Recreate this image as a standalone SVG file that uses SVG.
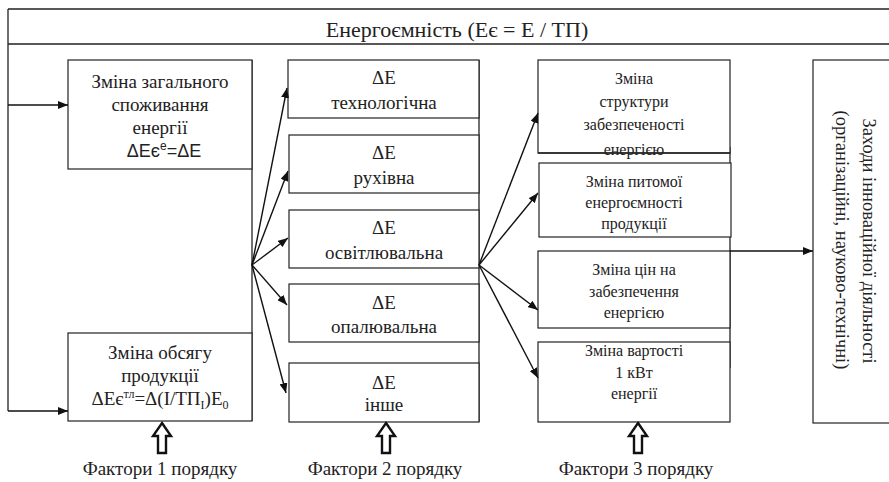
<svg xmlns="http://www.w3.org/2000/svg" width="889" height="482" viewBox="0 0 889 482">
<style>
.b{fill:#fff;stroke:#222;stroke-width:1.2}
.l{fill:none;stroke:#222;stroke-width:1.3}
.c{stroke:#111;stroke-width:1.4;fill:none}
.t{font-family:"Liberation Serif","Times New Roman",serif;font-size:19px;fill:#222;text-anchor:middle}
.s{font-size:16px}
.f{font-family:"Liberation Sans",Arial,sans-serif;font-size:18px;fill:#222;text-anchor:middle}
.h{fill:#fff;stroke:#111;stroke-width:2.4}
</style>
<defs>
<marker id="a" viewBox="0 0 10 8" refX="10" refY="4" markerWidth="10" markerHeight="8" markerUnits="userSpaceOnUse" orient="auto">
<path d="M0,0L10,4L0,8Z" fill="#111"/>
</marker>
</defs>
<rect width="889" height="482" fill="#fff"/>
<g id="header">
<path class="l" d="M8,9H895M8,44H895M8,9V411"/>
<text class="t" x="457" y="37" style="font-size:22px">Енергоємність (Еє = Е / ТП)</text>
</g>
<g id="col1">
<path class="l" d="M252,60V421"/>
<g id="n-total">
<rect class="b" x="68" y="60" width="184" height="109"/>
<text class="t" x="160" y="88">Зміна загального</text>
<text class="t" x="160" y="111">споживання</text>
<text class="t" x="160" y="134">енергії</text>
<text class="f" x="164" y="157">ΔEє<tspan dy="-7" font-size="12">e</tspan><tspan dy="7">=ΔE</tspan></text>
</g>
<g id="n-volume">
<rect class="b" x="68" y="333" width="184" height="88"/>
<text class="t" x="160" y="359">Зміна обсягу</text>
<text class="t" x="160" y="382">продукції</text>
<text class="t" x="160" y="405">ΔEє<tspan dy="-7" font-size="12">тл</tspan><tspan dy="7">=Δ(І/ТП</tspan><tspan dy="4" font-size="12">І</tspan><tspan dy="-4">)E</tspan><tspan dy="4" font-size="12">0</tspan></text>
</g>
</g>
<g id="col2">
<path class="l" d="M479,60V422"/>
<g id="n-tech"><rect class="b" x="288" y="60" width="191" height="58"/>
<text class="t" x="384" y="84">ΔE</text><text class="t" x="384" y="109">технологічна</text></g>
<g id="n-ruch"><rect class="b" x="289" y="135" width="190" height="58"/>
<text class="t" x="384" y="159">ΔE</text><text class="t" x="384" y="184">рухівна</text></g>
<g id="n-osv"><rect class="b" x="289" y="210" width="190" height="58"/>
<text class="t" x="384" y="234">ΔE</text><text class="t" x="384" y="259">освітлювальна</text></g>
<g id="n-opal"><rect class="b" x="289" y="284" width="190" height="58"/>
<text class="t" x="384" y="309">ΔE</text><text class="t" x="384" y="333">опалювальна</text></g>
<g id="n-inshe"><rect class="b" x="289" y="363" width="190" height="59"/>
<text class="t" x="384" y="389">ΔE</text><text class="t" x="384" y="411">інше</text></g>
</g>
<g id="col3">
<path class="l" d="M730,147V368"/>
<g id="n-struct"><rect class="b" x="538" y="60" width="192" height="93"/>
<text class="t s" x="634" y="84">Зміна</text><text class="t s" x="634" y="107">структури</text>
<text class="t s" x="634" y="130">забезпеченості</text><text class="t s" x="634" y="155">енергією</text>
<path class="l" d="M538,153H730"/></g>
<g id="n-pyt"><rect class="b" x="539" y="163" width="192" height="74"/>
<text class="t s" x="634" y="187">Зміна питомої</text><text class="t s" x="634" y="208">енергоємності</text>
<text class="t s" x="634" y="229">продукції</text></g>
<g id="n-cin"><rect class="b" x="538" y="251" width="192" height="77"/>
<text class="t s" x="634" y="275">Зміна цін на</text><text class="t s" x="634" y="297">забезпечення</text>
<text class="t s" x="634" y="318">енергією</text></g>
<g id="n-vart"><rect class="b" x="538" y="342" width="192" height="80"/>
<text class="t s" x="634" y="356">Зміна вартості</text><text class="t s" x="634" y="378">1 кВт</text>
<text class="t s" x="634" y="399">енергії</text></g>
</g>
<g id="n-measures">
<rect class="b" x="813" y="60" width="90" height="363"/>
<text class="t" transform="translate(863,241) rotate(90)" x="0" y="0" style="font-size:18.5px">Заходи інноваційної діяльності</text>
<text class="t" transform="translate(836,240) rotate(90)" x="0" y="0" style="font-size:18.5px">(організаційні, науково-технічні)</text>
</g>
<g id="connectors">
<path class="c" marker-end="url(#a)" d="M8,105H68"/>
<path class="c" marker-end="url(#a)" d="M8,411H68"/>
<path class="c" marker-end="url(#a)" d="M252,265L287,88"/>
<path class="c" marker-end="url(#a)" d="M252,265L288,171"/>
<path class="c" marker-end="url(#a)" d="M252,265L288,238"/>
<path class="c" marker-end="url(#a)" d="M252,265L287,305"/>
<path class="c" marker-end="url(#a)" d="M252,265L286,393"/>
<path class="c" marker-end="url(#a)" d="M479,265L538,113"/>
<path class="c" marker-end="url(#a)" d="M479,265L538,193"/>
<path class="c" marker-end="url(#a)" d="M479,265L538,310"/>
<path class="c" marker-end="url(#a)" d="M479,265L538,378"/>
<path class="c" marker-end="url(#a)" d="M730,251H813"/>
</g>
<g id="factors">
<path class="h" d="M162,423L171,436H166V453H158V436H153Z"/>
<path class="h" d="M386,423L395,436H390V453H382V436H377Z"/>
<path class="h" d="M638,423L647,436H642V453H634V436H629Z"/>
<text class="t" x="160" y="475">Фактори 1 порядку</text>
<text class="t" x="385" y="475">Фактори 2 порядку</text>
<text class="t" x="636" y="475">Фактори 3 порядку</text>
</g>
</svg>
